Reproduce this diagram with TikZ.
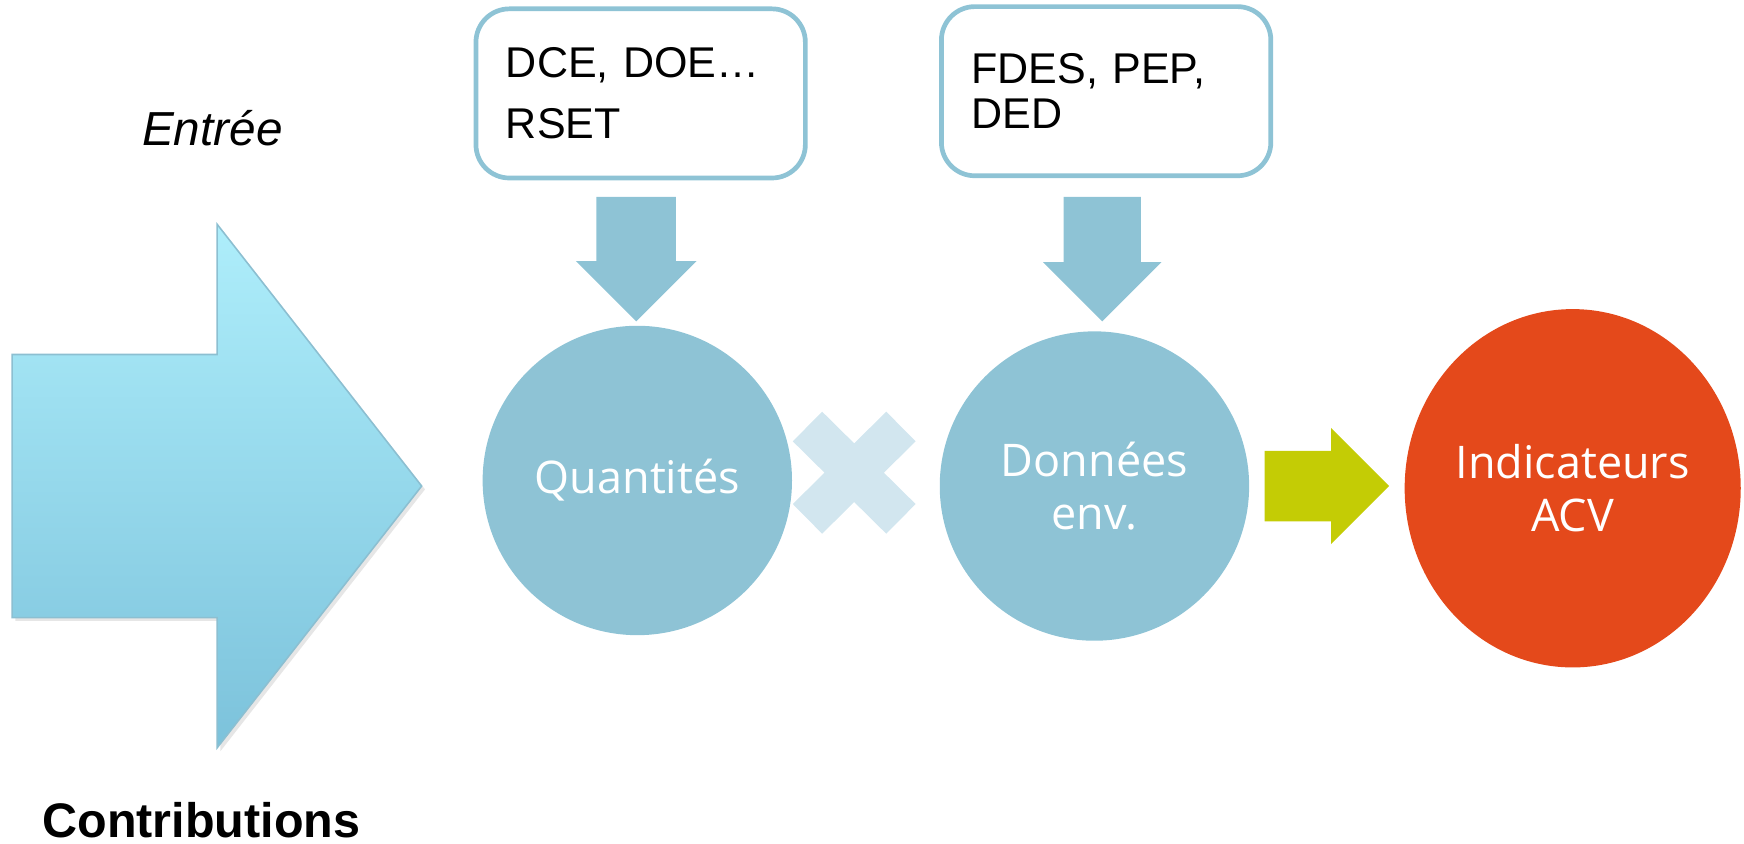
\documentclass[tikz,border=0pt]{standalone}
\usepackage{fontspec}
\setmainfont{Liberation Sans}
\newfontfamily\circlefont{Open Sans}
\usetikzlibrary{shapes.arrows,shapes.misc,shapes.geometric,shadows}

\definecolor{blockblue}{HTML}{8EC3D5}
\definecolor{lightblue}{HTML}{AEEEFB}
\definecolor{deepblue}{HTML}{7CC2DB}
\definecolor{crossblue}{HTML}{D2E6EF}
\definecolor{limegreen}{HTML}{C4CC05}
\definecolor{acvorange}{HTML}{E4491B}

\begin{document}
\begin{tikzpicture}[x=0.01cm,y=-0.01cm]
        \useasboundingbox (0,0) rectangle (1568,758);

        \node[font=\itshape\fontsize{12.2}{14}\selectfont] (entree) at (191,115) {Entrée};
        \node[font=\bfseries\fontsize{12.4}{14}\selectfont] (contribs) at (181,737) {Contributions};

        \node[single arrow, top color=lightblue, bottom color=deepblue, draw=deepblue!90!black!80, thin, inner xsep=0pt, inner ysep=1.175cm, minimum height=3.68cm, single arrow head extend=1.17cm, single arrow tip angle=104, anchor=tip, drop shadow={opacity=0.2, shadow xshift=0.03cm, shadow yshift=-0.03cm}] (input) at (380,437) {};

        \begin{scope}[every node/.style={rectangle, rounded corners=0.3cm, draw=blockblue, line width=1.2pt, fill=white, minimum height=1.52cm, text width=2.42cm, inner xsep=0.27cm, align=left, font=\fontsize{11}{11.4}\selectfont}]
        \node (docs) at (576,84) {DCE, DOE…\\[4.2pt] RSET};
        \node (fdes) at (994.5,82) {FDES, PEP,\\ DED};
        \end{scope}

        \begin{scope}[every node/.style={single arrow, fill=blockblue, inner xsep=0pt, minimum height=1.12cm, anchor=tip}]
        \node[rotate=-90, inner ysep=0.35cm, single arrow head extend=0.185cm] (down1) at (572,290) {};
        \node[rotate=-90, inner ysep=0.34cm, single arrow head extend=0.185cm] (down2) at (991,290) {};
        \node[fill=limegreen, inner ysep=0.31cm, single arrow head extend=0.205cm] (toacv) at (1250,437) {};
        \end{scope}

        \begin{scope}[every node/.style={circle, fill=blockblue, text=white, minimum size=2.78cm, inner sep=0pt, align=center, font=\circlefont\fontsize{11.5}{13.4}\selectfont}]
        \node (quant) at (573,432) {Quantités};
        \node (donnees) at (984,437) {Données\\env.};
        \node[ellipse, fill=acvorange, minimum width=3.02cm, minimum height=3.22cm] (acv) at (1414,439) {Indicateurs\\ACV};
        \end{scope}

        \node[cross out, draw=crossblue, line width=0.375cm, inner sep=0pt, outer sep=0pt, minimum width=0.84cm, minimum height=0.83cm] (times) at (768,425) {};
    \end{tikzpicture}
\end{document}
